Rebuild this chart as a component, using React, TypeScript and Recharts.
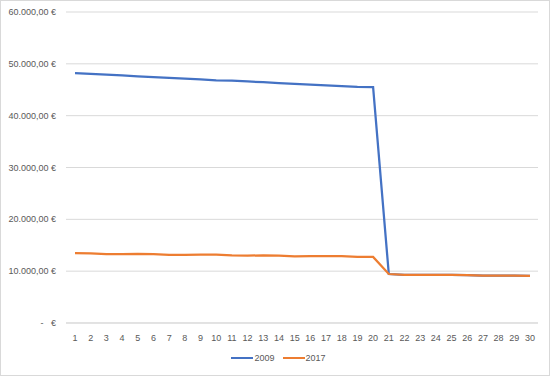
import { LineChart, Line, XAxis, YAxis, CartesianGrid, Legend } from "recharts";

const DAYS = Array.from({ length: 30 }, (_, i) => String(i + 1));
const VALUES_2009 = [
  48200, 48050, 47900, 47750, 47600, 47450, 47300, 47150, 47000, 46800,
  46750, 46600, 46450, 46300, 46150, 46000, 45850, 45700, 45550, 45500,
  9450, 9300, 9300, 9300, 9300, 9250, 9150, 9150, 9150, 9100,
];
const VALUES_2017 = [
  13500, 13450, 13300, 13300, 13350, 13300, 13150, 13150, 13200, 13200,
  13050, 13000, 13050, 13000, 12850, 12900, 12900, 12900, 12750, 12750,
  9450, 9300, 9300, 9300, 9300, 9250, 9150, 9150, 9150, 9100,
];
const Y_TICKS = [0, 10000, 20000, 30000, 40000, 50000, 60000];

const SERIES = [
  { key: "y2009", name: "2009", color: "#4472C4" },
  { key: "y2017", name: "2017", color: "#ED7D31" },
];

const data = DAYS.map((d, i) => ({ day: d, y2009: VALUES_2009[i], y2017: VALUES_2017[i] }));

const euro = (v: number) => {
  if (v === 0) return "-\u00a0\u00a0\u00a0€";
  const s = Math.round(v).toString().replace(/\B(?=(\d{3})+(?!\d))/g, ".");
  return `${s},00 €`;
};

const FONT = "'Liberation Sans', Arial, sans-serif";

const YTick = (props: any) => {
  const { x, y, payload } = props;
  return (
    <text x={x} y={y} dy={3} textAnchor="end" fontSize={9} fill="#595959" fontFamily={FONT}>
      {euro(payload.value)}
    </text>
  );
};

const App = () => {
  return (
    <div
      style={{
        position: "fixed",
        left: 0,
        top: 0,
        width: 548,
        height: 374,
        border: "1px solid #d9d9d9",
        background: "#fff",
        fontFamily: FONT,
      }}
    >
      <LineChart
        width={548}
        height={374}
        data={data}
        margin={{ top: 11, right: 11, left: 0, bottom: 0 }}
      >
        <CartesianGrid vertical={false} stroke="#d9d9d9" />
        <XAxis
          dataKey="day"
          tickLine={false}
          axisLine={{ stroke: "#d9d9d9" }}
          height={22}
          interval={0}
          padding={{ left: 9, right: 8 }}
          tick={{ fontSize: 9, fill: "#595959", fontFamily: FONT }}
          tickMargin={6}
        />
        <YAxis
          domain={[0, 60000]}
          ticks={Y_TICKS}
          tick={<YTick />}
          tickLine={false}
          axisLine={false}
          width={65}
          tickMargin={4}
        />
        <Legend
          verticalAlign="bottom"
          height={30}
          content={() => (
            <div style={{ display: "flex", justifyContent: "center", gap: 8, paddingTop: 8, paddingLeft: 18 }}>
              {SERIES.map((s) => (
                <div key={s.key} style={{ display: "flex", alignItems: "center" }}>
                  <span style={{ display: "inline-block", width: 22, height: 2.5, background: s.color, marginRight: 1 }} />
                  <span style={{ fontSize: 9, color: "#595959" }}>{s.name}</span>
                </div>
              ))}
            </div>
          )}
        />
        {SERIES.map((s) => (
          <Line
            key={s.key}
            dataKey={s.key}
            name={s.name}
            stroke={s.color}
            strokeWidth={2.25}
            dot={false}
            type="linear"
            isAnimationActive={false}
          />
        ))}
      </LineChart>
    </div>
  );
};

export default App;
